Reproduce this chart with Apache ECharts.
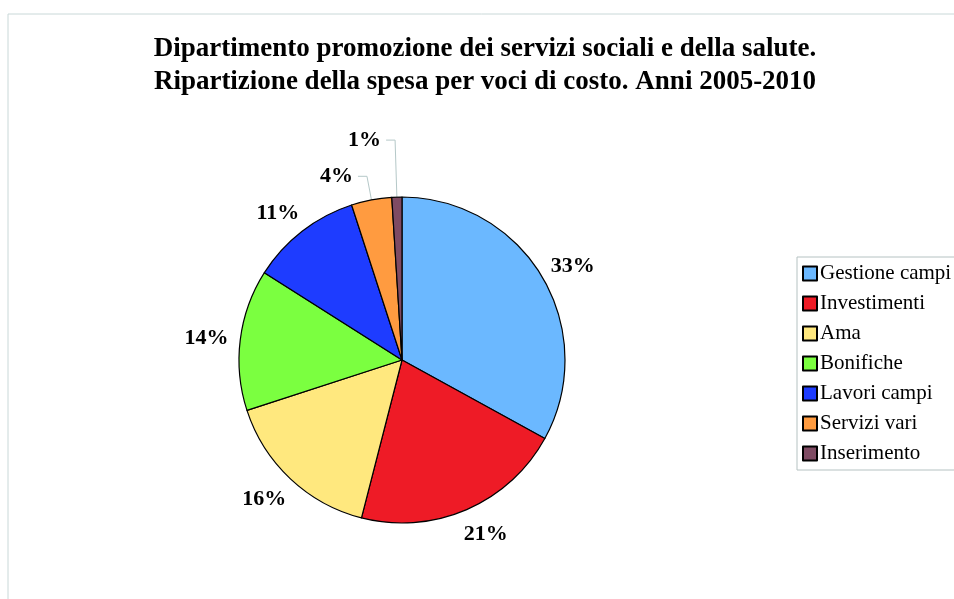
<!DOCTYPE html>
<html>
<head>
<meta charset="utf-8">
<script src="https://cdn.jsdelivr.net/npm/echarts@6/dist/echarts.min.js"></script>
<style>
  html, body { margin: 0; padding: 0; background: #fff; }
  #chart { width: 954px; height: 599px; }
</style>
</head>
<body>
<div id="chart"></div>
<script>
// dati
const categories = ['Gestione campi', 'Investimenti', 'Ama', 'Bonifiche', 'Lavori campi', 'Servizi vari', 'Inserimento'];
const shares = [33, 21, 16, 14, 11, 4, 1];
const colors = ['#6BB8FF', '#EE1B26', '#FFE87E', '#7BFF40', '#1E3CFF', '#FF9B40', '#7F4B63'];
const titleLines = [
  'Dipartimento promozione dei servizi sociali e della salute.',
  'Ripartizione della spesa per voci di costo. Anni 2005-2010'
];

const serif = '"Liberation Serif", "DejaVu Serif", serif';
// solo le fette piccole hanno la linea guida
const leaderLen = { 'Servizi vari': 24, 'Inserimento': 57 };

let myChart = echarts.init(document.getElementById('chart'));

let pieData = categories.map(function (name, i) {
  let small = leaderLen[name] != null;
  return {
    name: name,
    value: shares[i],
    labelLine: small
      ? { show: true, length: leaderLen[name], length2: 9 }
      : { show: false, length: 25, length2: 4 }
  };
});

let option = {
  backgroundColor: '#fff',
  color: colors,
  animation: false,
  title: {
    text: titleLines.join('\n'),
    left: 480,
    top: 28,
    textAlign: 'center',
    textStyle: {
      fontFamily: serif,
      fontWeight: 'bold',
      fontSize: 27,
      lineHeight: 33,
      color: '#000'
    }
  },
  graphic: [{
    type: 'rect',
    shape: { x: 8, y: 14, width: 1200, height: 1000 },
    style: { fill: 'none', stroke: '#C9D8D8', lineWidth: 1 },
    silent: true
  }],
  legend: {
    orient: 'vertical',
    left: 797,
    top: 257,
    data: categories,
    icon: 'rect',
    itemWidth: 14,
    itemHeight: 14,
    itemGap: 9,
    padding: [6, 40, 6, 5],
    borderColor: '#B5C2C2',
    borderWidth: 1,
    textStyle: {
      fontFamily: serif,
      fontSize: 21,
      color: '#000',
      padding: [0, 0, 0, -2]
    }
  },
  series: [{
    name: 'Spesa',
    type: 'pie',
    center: [402, 360],
    radius: 163,
    startAngle: 90,
    clockwise: true,
    avoidLabelOverlap: false,
    itemStyle: {
      borderColor: '#000',
      borderWidth: 1.2
    },
    emphasis: { disabled: true },
    label: {
      show: true,
      position: 'outside',
      fontFamily: serif,
      fontWeight: 'bold',
      fontSize: 22,
      color: '#000',
      formatter: function (p) {
        return Math.round(p.percent) + '%';
      }
    },
    labelLine: {
      lineStyle: { color: '#B5C8C8', width: 1 }
    },
    labelLayout: function (p) {
      // etichette senza linea: centrate sul punto di ancoraggio
      if (leaderLen[categories[p.dataIndex]] == null) {
        return { align: 'center', dy: 2 };
      }
      return {};
    },
    data: pieData
  }]
};

myChart.setOption(option);
window.addEventListener('resize', function () {
  myChart.resize();
});
</script>
</body>
</html>
